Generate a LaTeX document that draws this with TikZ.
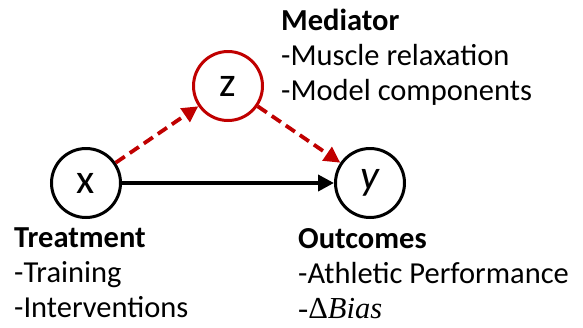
\documentclass[tikz,border=0pt]{standalone}
\usepackage{fontspec}
\setmainfont{Carlito}
\newfontfamily\greekserif{Liberation Serif}
\usetikzlibrary{arrows.meta, positioning}
\definecolor{medred}{RGB}{192,0,0}
\tikzstyle{var} = [
    circle, draw=black, line width=3pt, minimum size=69pt, inner sep=0pt,
    font=\fontsize{42}{42}\selectfont
]
\tikzstyle{medvar} = [var, draw=medred]
\tikzstyle{desc} = [
    align=left, anchor=north west, inner sep=0pt,
    font=\fontsize{30.5}{35}\selectfont
]
\tikzstyle{arrow} = [-{Triangle[length=16pt, width=16pt]}, line width=3.8pt, draw=black]
\tikzstyle{medarrow} = [arrow, draw=medred, dash pattern=on 11pt off 6pt]

\begin{document}
\begin{tikzpicture}[x=1pt, y=-1pt, on grid]
        \useasboundingbox (0,0) rectangle (583,327);

        % Variables
        \node[var] (x) at (86,183) {x};
        \node[var, right=284pt of x] (y) {\textit{y}};
        \node[medvar, above right=97pt and 142pt of x] (z) {z};

        % Descriptions
        \node[desc] (med) at (281,9)
            {\textbf{Mediator}\\-Muscle relaxation\\-Model components};
        \node[desc] (treat) at (14,228)
            {\textbf{Treatment}\\-Training\\-Interventions};
        \node[desc] (out) at (298,228)
            {\textbf{Outcomes}\\-Athletic Performance\\
             {\greekserif\itshape -\upshape Δ\itshape Bias}};

        % Arrows
        \draw[arrow] (x) -- (y);
        \draw[medarrow] (x) -- (z);
        \draw[medarrow] (z) -- (y);
    \end{tikzpicture}
\end{document}
